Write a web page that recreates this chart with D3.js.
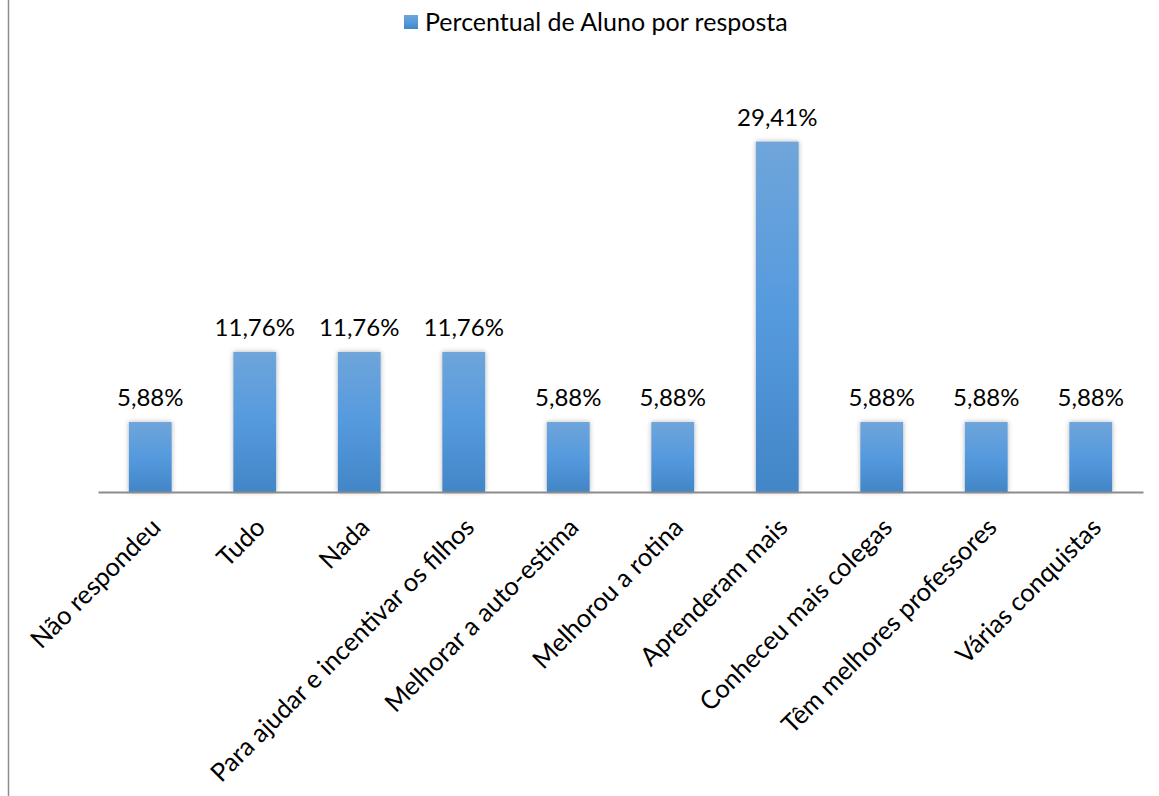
<!DOCTYPE html>
<html>
<head>
<meta charset="utf-8">
<script src="https://cdn.jsdelivr.net/npm/d3@7"></script>
<style>
  body { margin: 0; background: #fff; }
  text { font-family: Lato, "Open Sans", sans-serif; fill: #000; }
</style>
</head>
<body>
<div id="chart"></div>
<script>
const categories = [
  'Não respondeu', 'Tudo', 'Nada', 'Para ajudar e incentivar os filhos',
  'Melhorar a auto-estima', 'Melhorou a rotina', 'Aprenderam mais',
  'Conheceu mais colegas', 'Têm melhores professores', 'Várias conquistas'
];
const values = [5.88, 11.76, 11.76, 11.76, 5.88, 5.88, 29.41, 5.88, 5.88, 5.88];
const seriesName = 'Percentual de Aluno por resposta';

const W = 1159, H = 796;
const margin = { top: 75, right: 16, bottom: 304, left: 98 };
const width = W - margin.left - margin.right;
const height = H - margin.top - margin.bottom;

const svg = d3.select('#chart').append('svg')
  .attr('width', W).attr('height', H);

const defs = svg.append('defs');
const grad = defs.append('linearGradient')
  .attr('id', 'barGrad').attr('x1', 0).attr('y1', 0).attr('x2', 0).attr('y2', 1);
grad.append('stop').attr('offset', '0%').attr('stop-color', '#6fa5da');
grad.append('stop').attr('offset', '50%').attr('stop-color', '#559ade');
grad.append('stop').attr('offset', '100%').attr('stop-color', '#4286c7');

const shadow = defs.append('filter').attr('id', 'shadow')
  .attr('x', '-30%').attr('y', '-10%').attr('width', '160%').attr('height', '120%');
shadow.append('feDropShadow').attr('dx', 0).attr('dy', 0).attr('stdDeviation', 2.5)
  .attr('flood-color', '#000').attr('flood-opacity', 0.3);

// chart border on the left
svg.append('line')
  .attr('x1', 8.5).attr('x2', 8.5).attr('y1', 0).attr('y2', H)
  .attr('stroke', '#8c8c8c').attr('stroke-width', 1.5);

const g = svg.append('g').attr('transform', `translate(${margin.left},${margin.top})`);

const x = d3.scaleBand().domain(categories).range([0, width]).paddingInner(0.59).paddingOuter(0.295);
const y = d3.scaleLinear().domain([0, 35]).range([height, 0]);

// bars
g.selectAll('rect.bar')
  .data(values)
  .enter().append('rect')
  .attr('class', 'bar')
  .attr('x', (d, i) => x(categories[i]))
  .attr('y', d => y(d))
  .attr('width', x.bandwidth())
  .attr('height', d => height - y(d))
  .attr('fill', 'url(#barGrad)')
  .attr('filter', 'url(#shadow)');

// value labels
g.selectAll('text.val')
  .data(values)
  .enter().append('text')
  .attr('class', 'val')
  .attr('x', (d, i) => x(categories[i]) + x.bandwidth() / 2)
  .attr('y', d => y(d) - 16)
  .attr('text-anchor', 'middle')
  .style('font-size', '24px')
  .text(d => d.toFixed(2).replace('.', ',') + '%');

// x axis
const xAxis = g.append('g')
  .attr('transform', `translate(0,${height})`)
  .call(d3.axisBottom(x).tickSize(0).tickPadding(0));
xAxis.select('.domain').attr('stroke', '#8c8c8c').attr('stroke-width', 2);
xAxis.selectAll('.tick text')
  .attr('text-anchor', 'end')
  .attr('y', 0)
  .attr('dy', 0)
  .attr('transform', 'translate(12,37) rotate(-45)')
  .style('font-size', '25.5px')
  .style('font-family', 'Lato, "Open Sans", sans-serif')
  .attr('fill', '#000');

// legend
const legend = svg.append('g').attr('transform', 'translate(404,15)');
legend.append('rect').attr('width', 14).attr('height', 14).attr('fill', 'url(#barGrad)');
legend.append('text').attr('x', 21).attr('y', 15.5)
  .style('font-size', '25px').text(seriesName);
</script>
</body>
</html>
